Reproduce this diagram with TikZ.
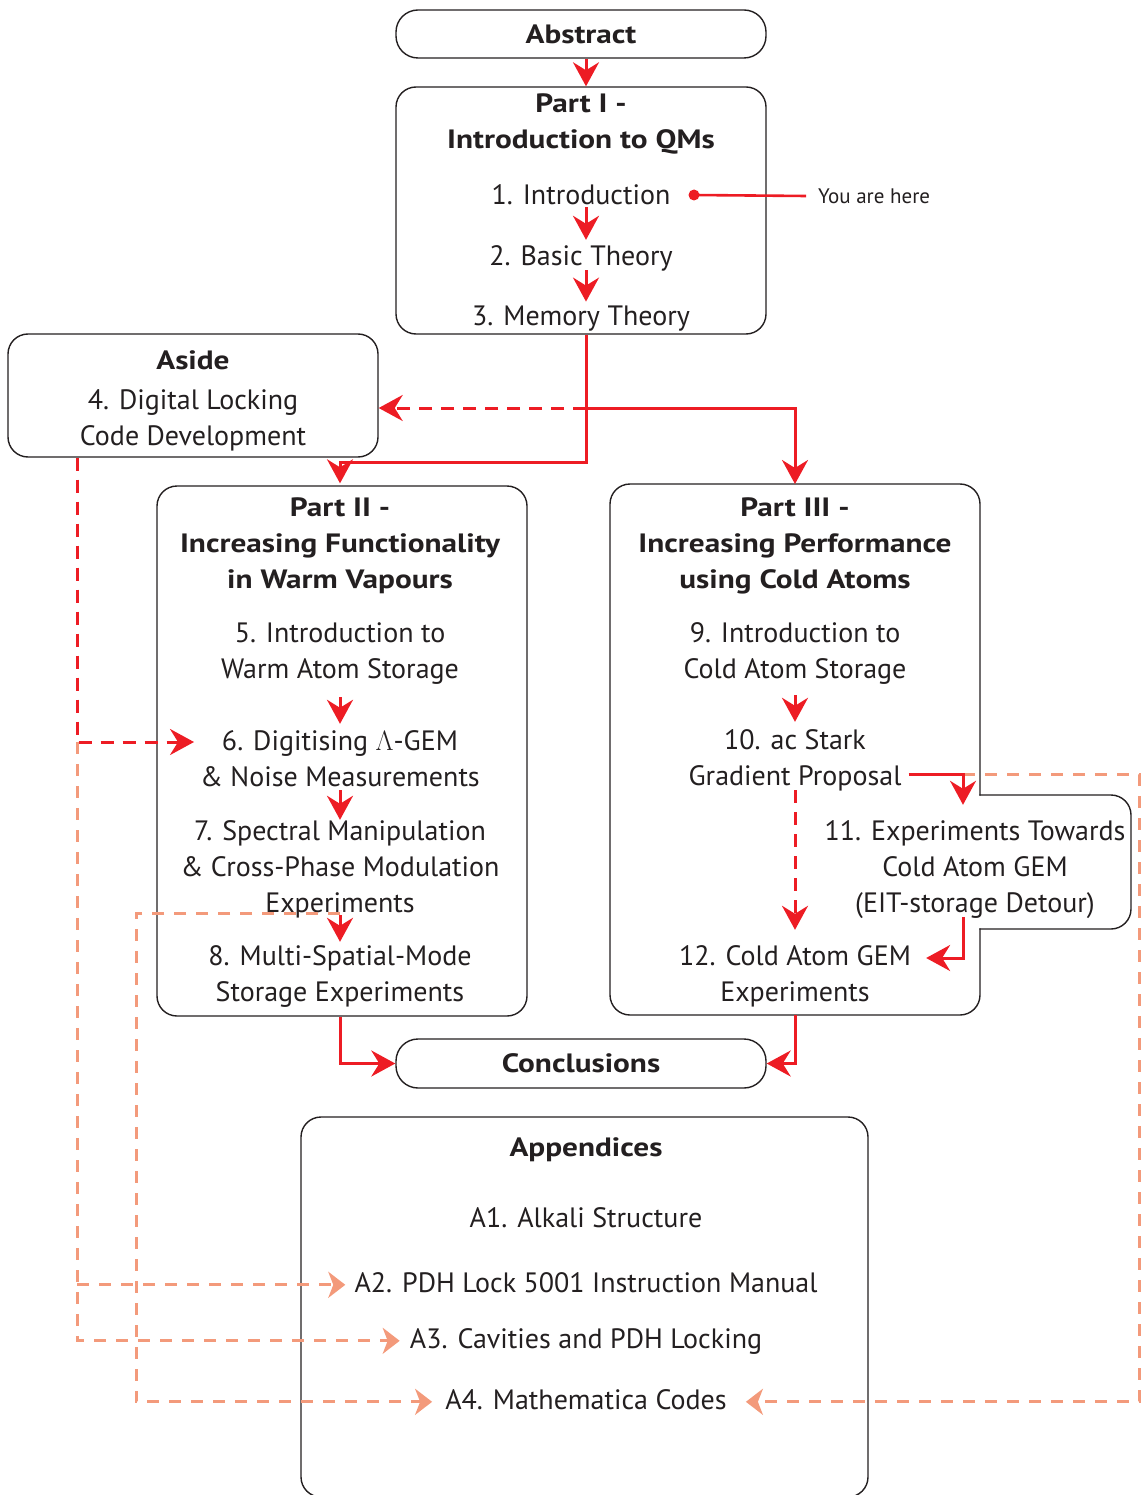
\documentclass[tikz,border=0pt]{standalone}
\usepackage{fix-cm}
\usepackage[no-math]{fontspec}
\setmainfont{PT Sans}[BoldFeatures={FakeStretch=1.18}]
\usetikzlibrary{arrows.meta}
\definecolor{ink}{HTML}{231F20}
\definecolor{flowred}{HTML}{ED1C24}
\definecolor{appx}{HTML}{F39A7B}
\begin{document}
\begin{tikzpicture}[x=1pt, y={(0pt,-1pt)},
  boxline/.style={draw=ink, line width=1.4pt},
  box/.style={boxline, rounded corners=20pt, inner sep=0pt},
  txt/.style={text=ink, align=center, inner sep=0pt, font=\fontsize{28}{36}\selectfont},
  ttl/.style={txt, font=\fontsize{26.5}{36}\selectfont\bfseries},
  arr/.style={draw=flowred, line width=3pt, -{Stealth[length=24pt,width=26pt,inset=8pt]}},
  rdash/.style={arr, dash pattern=on 13pt off 9pt},
  oarr/.style={draw=appx, line width=3pt, dash pattern=on 12pt off 10pt,
               -{Stealth[length=17pt,width=26pt,inset=5pt]}}]
\useasboundingbox (0,0) rectangle (1143,1495);

% ---------- boxes ----------
\node[box, ttl, rounded corners=22pt, minimum width=370pt, minimum height=48pt] (abs) at (581,34) {Abstract};
\node[box, minimum width=370pt, minimum height=247pt] (p1) at (581,210.5) {};
\node[box, minimum width=370pt, minimum height=123pt] (aside) at (193,395.5) {};
\node[box, minimum width=370pt, minimum height=530pt] (p2) at (342,751) {};
\draw[boxline, rounded corners=20pt, line cap=rect]
  (980,795) -- (980,484) -- (610,484) -- (610,1015) -- (980,1015) -- (980,929);
\draw[boxline, rounded corners=20pt, line cap=rect]
  (980,795) -- (1131,795) -- (1131,929) -- (980,929);
\coordinate (p3n) at (795,484);
\coordinate (p3s) at (795,1015);
\node[box, ttl, rounded corners=22pt, minimum width=370pt, minimum height=49pt] (conc) at (581,1063.5) {Conclusions};
\node[box, minimum width=567pt, minimum height=380pt] (app) at (584.5,1307) {};

% ---------- texts ----------
\node[ttl] (p1t) at (581,123.8) {\strut Part I -\\\strut Introduction to QMs};
\node[txt] (i1) at (581,197.8) {\strut 1. Introduction};
\node[txt] (i2) at (581,258.8) {\strut 2. Basic Theory};
\node[txt] (i3) at (581,318.8) {\strut 3. Memory Theory};

\node[ttl] (asidet) at (193,361.8) {\strut Aside};
\node[txt] (s4) at (193,419.8) {\strut 4. Digital Locking\\\strut Code Development};

\node[ttl] (p2t) at (340,545.5) {\strut Part II -\\\strut Increasing Functionality\\\strut in Warm Vapours};
\node[txt] (s5) at (340,652.8) {\strut 5. Introduction to\\\strut Warm Atom Storage};
\node[txt] (s6) at (340,761.3) {\strut 6. Digitising $\Lambda$-GEM\\\strut \& Noise Measurements};
\node[txt] (s7) at (340,868.8) {\strut 7. Spectral Manipulation\\\strut \& Cross-Phase Modulation\\\strut Experiments};
\node[txt] (s8) at (340,975.8) {\strut 8. Multi-Spatial-Mode\\\strut Storage Experiments};

\node[ttl] (p3t) at (795,545.5) {\strut Part III -\\\strut Increasing Performance\\\strut using Cold Atoms};
\node[txt] (s9) at (795,652.8) {\strut 9. Introduction to\\\strut Cold Atom Storage};
\node[txt] (s10) at (795,760.3) {\strut 10. ac Stark\\\strut Gradient Proposal};
\node[txt] (s11) at (975,868.8) {\strut 11. Experiments Towards\\\strut Cold Atom GEM\\\strut (EIT-storage Detour)};
\node[txt] (s12) at (795,975.8) {\strut 12. Cold Atom GEM\\\strut Experiments};

\node[ttl] (appt) at (586,1148.8) {\strut Appendices};
\node[txt] (a1) at (586,1219.8) {\strut A1. Alkali Structure};
\node[txt] (a2) at (586,1284.8) {\strut A2. PDH Lock 5001 Instruction Manual};
\node[txt] (a3) at (586,1340.8) {\strut A3. Cavities and PDH Locking};
\node[txt] (a4) at (586,1401.8) {\strut A4. Mathematica Codes};

% ---------- "you are here" marker ----------
\node[circle, fill=flowred, inner sep=0pt, minimum size=11pt] (dot) at (694,195) {};
\node[text=ink, font=\fontsize{21}{24}\selectfont, anchor=west, inner sep=0pt] (here) at (818,196) {You are here};
\draw[flowred, line width=2.6pt] (dot.center) -- ([xshift=-12pt]here.west);

% ---------- junction points ----------
\coordinate (j3) at (586,408);
\coordinate (j2) at (586,462);
\coordinate (lx) at (77,742);
\coordinate (o7) at (340,913);
\coordinate (ox) at (136,913);
\coordinate (gq) at (963,774);
\coordinate (oq) at (1139,774);
\coordinate (gr) at (963,958);

% ---------- appendix links ----------
\draw[oarr] (lx) |- ([xshift=-10pt]a3.west);
\draw[oarr] (lx |- a2.west) -- ([xshift=-9pt]a2.west);
\draw[oarr] (o7) -- (ox) |- ([xshift=-13pt]a4.west);
\draw[oarr] (gq) -- (oq) |- ([xshift=19pt]a4.east);

% ---------- main flow ----------
\draw[arr] ([xshift=5pt]abs.south) -- ([xshift=5pt]p1.north);
\draw[arr, shorten <=-8.8pt, shorten >=0.8pt] ([xshift=5pt]i1.south) -- ([xshift=5pt]i2.north);
\draw[arr, shorten <=-6.8pt, shorten >=-1pt] ([xshift=5pt]i2.south) -- ([xshift=5pt]i3.north);

\draw[arr, shorten >=2pt] ([xshift=5pt]p1.south) -- (j2) -| ([xshift=-2pt]p2.north);
\draw[arr] (j3) -| (p3n);
\draw[rdash] (j3) -- (aside.east |- j3);
\draw[rdash] (aside.south -| lx) -- (lx) -- ([xshift=-6pt]s6.west |- lx);

\draw[arr, shorten <=8pt, shorten >=1.3pt] (s5.south) -- (s6.north);
\draw[arr, shorten <=-7.3pt, shorten >=-5.2pt] (s6.south) -- (s7.north);
\draw[arr, shorten <=-7.8pt, shorten >=-2.2pt] (s7.south) -- (s8.north);

\draw[arr, shorten <=6.2pt, shorten >=2.3pt] (s9.south) -- (s10.north);
\draw[rdash, shorten <=-6.3pt, shorten >=9.8pt] (s10.south) -- (s12.north);
\draw[arr, shorten >=9.8pt] ([xshift=7pt]s10.east |- gq) -- (gq) -- ([xshift=-12pt]s11.north);
\draw[arr, shorten <=-6.2pt] ([xshift=-12pt]s11.south) -- (gr) -- ([xshift=15pt]s12.east |- gr);

\draw[arr] ([xshift=-2pt]p2.south) |- (conc.west);
\draw[arr] (p3s) |- (conc.east);
\end{tikzpicture}
\end{document}
